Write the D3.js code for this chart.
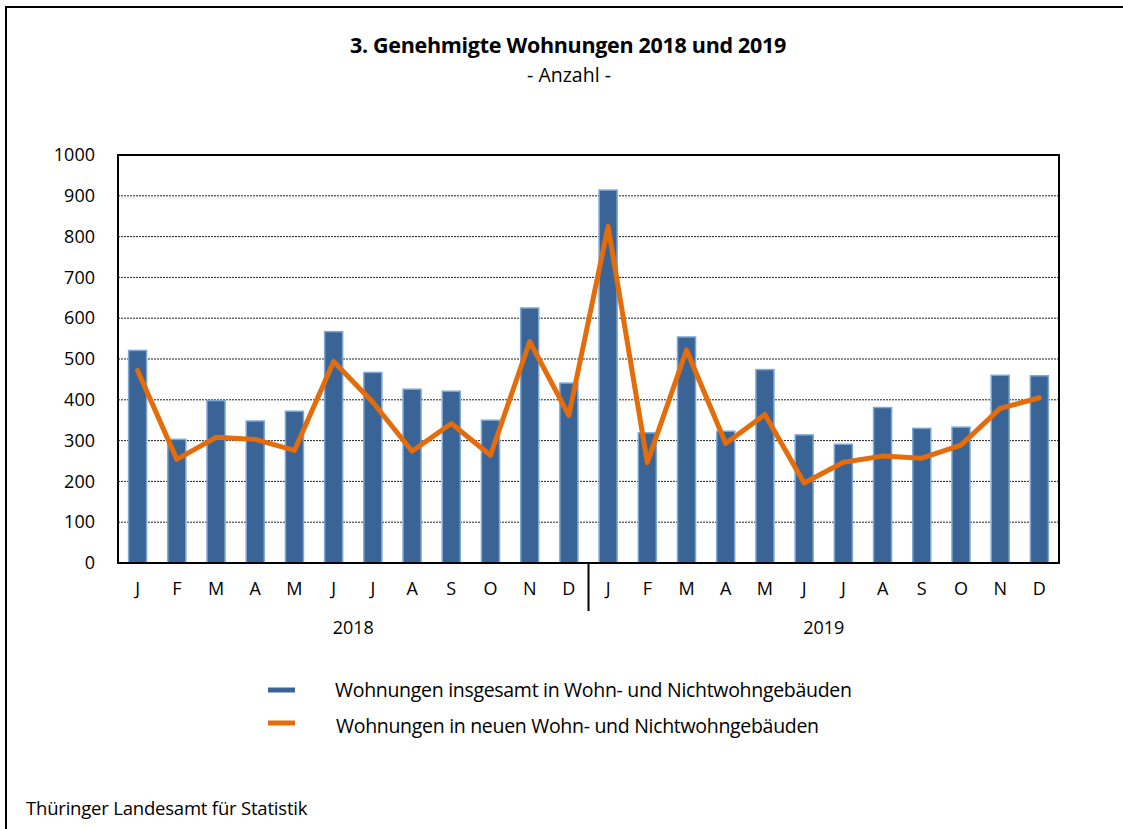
<!DOCTYPE html>
<html>
<head>
<meta charset="utf-8">
<script src="https://cdn.jsdelivr.net/npm/d3@7"></script>
<style>
  body { margin: 0; background: #fff; }
  svg { display: block; font-family: "Open Sans", sans-serif; }
</style>
</head>
<body>
<div id="chart"></div>
<script>
const months = ['J', 'F', 'M', 'A', 'M', 'J', 'J', 'A', 'S', 'O', 'N', 'D'];
const years = ['2018', '2019'];
const total = [521, 303, 398, 348, 372, 567, 467, 426, 421, 350, 625, 441,
               914, 319, 554, 323, 474, 314, 291, 381, 330, 333, 460, 459];
const newBuild = [472, 254, 308, 303, 276, 494, 394, 274, 342, 264, 543, 362,
                  825, 246, 522, 293, 364, 196, 247, 262, 257, 289, 379, 405];
const yTicks = [0, 100, 200, 300, 400, 500, 600, 700, 800, 900, 1000];
const legendLabels = ['Wohnungen insgesamt in Wohn- und Nichtwohngebäuden',
                      'Wohnungen in neuen Wohn- und Nichtwohngebäuden'];

const width = 1123, height = 829;
const m = { left: 118, right: 1059, top: 155, bottom: 563 };
const blue = '#3a6496', orange = '#e46c0a';

const svg = d3.select('#chart').append('svg')
    .attr('width', width)
    .attr('height', height);

// frame (top + left only)
svg.append('path')
    .attr('d', `M6,${height + 5} V7 H${width + 5}`)
    .attr('fill', 'none')
    .attr('stroke', '#000')
    .attr('stroke-width', 2);

svg.append('text')
    .attr('x', 568).attr('y', 53)
    .attr('text-anchor', 'middle')
    .style('font-weight', 'bold')
    .style('font-size', '21.5px')
    .style('letter-spacing', '-0.3px')
    .text('3. Genehmigte Wohnungen 2018 und 2019');
svg.append('text')
    .attr('x', 569).attr('y', 82)
    .attr('text-anchor', 'middle')
    .style('font-size', '19.5px')
    .text('- Anzahl -');

const keys = d3.range(total.length);
const x = d3.scaleBand()
    .domain(keys)
    .range([m.left, m.right])
    .paddingInner(0.54)
    .paddingOuter(0.27);
const y = d3.scaleLinear()
    .domain([0, 1000])
    .range([m.bottom, m.top]);

// grid
svg.append('g')
    .selectAll('line')
    .data(yTicks.filter(d => d > 0 && d < 1000))
    .enter()
    .append('line')
        .attr('x1', m.left).attr('x2', m.right)
        .attr('y1', d => y(d)).attr('y2', d => y(d))
        .attr('stroke', '#222')
        .attr('stroke-width', 1)
        .attr('stroke-dasharray', '2,1');

// bars
svg.append('g')
    .selectAll('rect')
    .data(total)
    .enter()
    .append('rect')
        .attr('x', (d, i) => x(i))
        .attr('y', d => y(d))
        .attr('width', x.bandwidth())
        .attr('height', d => m.bottom - y(d))
        .attr('fill', blue)
        .attr('stroke', '#7fa7d6')
        .attr('stroke-width', 1.5);

// plot border
svg.append('rect')
    .attr('x', m.left).attr('y', m.top)
    .attr('width', m.right - m.left)
    .attr('height', m.bottom - m.top)
    .attr('fill', 'none')
    .attr('stroke', '#000')
    .attr('stroke-width', 2);

// line
const line = d3.line()
    .x((d, i) => x(i) + x.bandwidth() / 2)
    .y(d => y(d));
svg.append('path')
    .datum(newBuild)
    .attr('d', line)
    .attr('fill', 'none')
    .attr('stroke', orange)
    .attr('stroke-width', 5)
    .attr('stroke-linejoin', 'round')
    .attr('stroke-linecap', 'round');

// y axis labels
const yAxis = d3.axisLeft(y).tickValues(yTicks).tickFormat(d3.format('d'))
    .tickSize(0).tickPadding(23);
svg.append('g')
    .attr('transform', `translate(${m.left},0)`)
    .call(yAxis)
    .attr('font-family', '"Open Sans", sans-serif')
    .attr('font-size', 18)
    .call(g => g.select('.domain').remove())
    .selectAll('text')
        .attr('fill', '#000');

// month labels
const xAxis = d3.axisBottom(x)
    .tickFormat(i => months[i % 12])
    .tickSize(0).tickPadding(19);
svg.append('g')
    .attr('transform', `translate(0,${m.bottom})`)
    .call(xAxis)
    .attr('font-family', '"Open Sans", sans-serif')
    .attr('font-size', 18)
    .call(g => g.select('.domain').remove())
    .selectAll('text')
        .attr('fill', '#000');

// year separator
const sep = (x(11) + x.bandwidth() + x(12)) / 2;
svg.append('line')
    .attr('x1', sep).attr('x2', sep)
    .attr('y1', m.bottom).attr('y2', 611)
    .attr('stroke', '#000').attr('stroke-width', 2);

svg.append('g')
    .selectAll('text')
    .data(years)
    .enter()
    .append('text')
        .attr('x', (d, i) => (x(i * 12) + x(i * 12 + 11) + x.bandwidth()) / 2)
        .attr('y', 634)
        .attr('text-anchor', 'middle')
        .style('font-size', '18px')
        .text(d => d);

// legend
const legend = svg.append('g')
    .selectAll('g')
    .data(legendLabels)
    .enter()
    .append('g')
        .attr('transform', (d, i) => `translate(268,${690 + i * 33})`);
legend.append('line')
    .attr('x1', 0).attr('x2', 27)
    .attr('stroke', (d, i) => i ? orange : blue)
    .attr('stroke-width', 5);
legend.append('text')
    .attr('x', (d, i) => 67 + i)
    .attr('y', (d, i) => 7 + i * 3)
    .style('font-size', '19.5px')
    .style('letter-spacing', '-0.3px')
    .text(d => d);

svg.append('text')
    .attr('x', 26).attr('y', 815)
    .style('font-size', '18.5px')
    .style('letter-spacing', '-0.2px')
    .text('Thüringer Landesamt für Statistik');
</script>
</body>
</html>
